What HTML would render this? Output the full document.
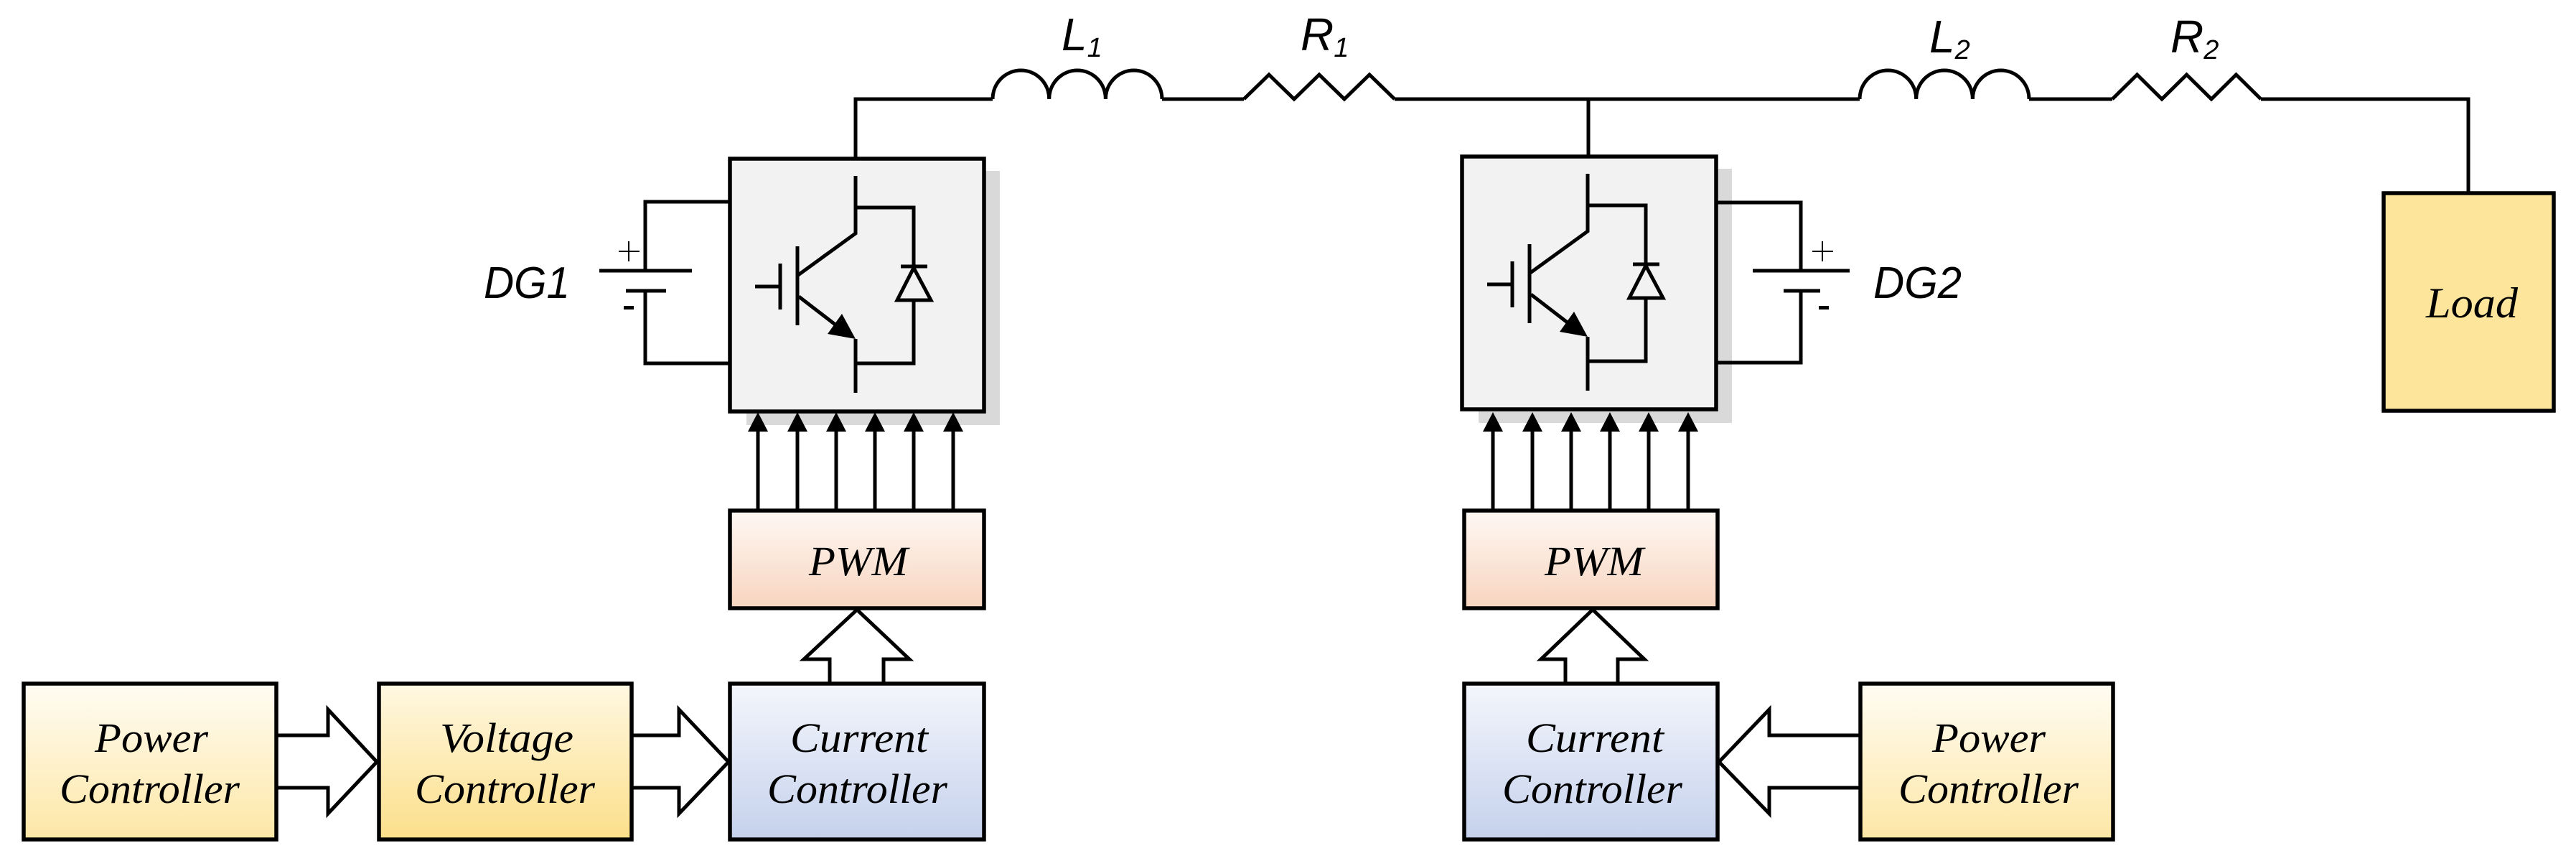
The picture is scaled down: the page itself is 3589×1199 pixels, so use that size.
<!DOCTYPE html>
<html><head><meta charset="utf-8"><style>html,body{margin:0;padding:0;background:#fff}svg{display:block}</style></head>
<body>
<svg width="3589" height="1199" viewBox="0 0 3589 1199" xmlns="http://www.w3.org/2000/svg">
<defs>
<linearGradient id="gPow" x1="0" y1="0" x2="0" y2="1"><stop offset="0" stop-color="#fffcf3"/><stop offset="1" stop-color="#fde7a6"/></linearGradient>
<linearGradient id="gVol" x1="0" y1="0" x2="0" y2="1"><stop offset="0" stop-color="#fff8e2"/><stop offset="1" stop-color="#fcdf8a"/></linearGradient>
<linearGradient id="gCur" x1="0" y1="0" x2="0" y2="1"><stop offset="0" stop-color="#f4f6fc"/><stop offset="1" stop-color="#c5d1ec"/></linearGradient>
<linearGradient id="gPwm" x1="0" y1="0" x2="0" y2="1"><stop offset="0" stop-color="#fff8f4"/><stop offset="1" stop-color="#f7d4be"/></linearGradient>
<g id="igbt" fill="none" stroke="#000" stroke-width="5">
  <rect x="1040" y="238" width="353" height="354" fill="#d9d9d9" stroke="none"/>
  <rect x="1017" y="221" width="354" height="352" fill="#f2f2f2" stroke-width="5.5"/>
  <polyline points="1192,245 1192,325 1112,383"/>
  <line x1="1111" y1="343" x2="1111" y2="453"/>
  <line x1="1087" y1="367" x2="1087" y2="431"/>
  <line x1="1052" y1="399" x2="1087" y2="399"/>
  <line x1="1113" y1="413" x2="1178" y2="463"/>
  <polygon points="1192,472 1153,465 1173,437" fill="#000" stroke="none"/>
  <polyline points="1192,472 1192,547"/>
  <polyline points="1192,289 1273,289 1273,506 1192,506"/>
  <line x1="1255" y1="371" x2="1292" y2="371"/>
  <polygon points="1273,373 1250,418 1297,418" fill="#f2f2f2"/>
</g>
<g id="arr6" stroke="#000" stroke-width="5" fill="#000">
  <line x1="1056" y1="711" x2="1056" y2="590"/><polygon points="1056,574 1042,601 1070,601" stroke="none"/>
  <line x1="1111" y1="711" x2="1111" y2="590"/><polygon points="1111,574 1097,601 1125,601" stroke="none"/>
  <line x1="1165" y1="711" x2="1165" y2="590"/><polygon points="1165,574 1151,601 1179,601" stroke="none"/>
  <line x1="1219" y1="711" x2="1219" y2="590"/><polygon points="1219,574 1205,601 1233,601" stroke="none"/>
  <line x1="1273" y1="711" x2="1273" y2="590"/><polygon points="1273,574 1259,601 1287,601" stroke="none"/>
  <line x1="1328" y1="711" x2="1328" y2="590"/><polygon points="1328,574 1314,601 1342,601" stroke="none"/>
</g>
</defs>

<!-- Top wires -->
<g fill="none" stroke="#000" stroke-width="5" stroke-linejoin="miter">
  <polyline points="1192,221 1192,138 1383,138"/>
  <path d="M1383,138 a39.3,40 0 0 1 78.7,0 a39.3,40 0 0 1 78.7,0 a39.3,40 0 0 1 78.6,0"/>
  <line x1="1619" y1="138" x2="1733" y2="138"/>
  <polyline points="1733,138 1768,104 1803,138 1838,104 1873,138 1908,104 1943,138"/>
  <line x1="1943" y1="138" x2="2591" y2="138"/>
  <line x1="2213" y1="138" x2="2213" y2="218"/>
  <path d="M2591,138 a39.3,40 0 0 1 78.7,0 a39.3,40 0 0 1 78.7,0 a39.3,40 0 0 1 78.6,0"/>
  <line x1="2827" y1="138" x2="2943" y2="138"/>
  <polyline points="2943,138 2977.5,104 3012,138 3046.5,104 3081,138 3115.5,104 3150,138"/>
  <polyline points="3150,138 3439,138 3439,269"/>
</g>

<!-- Load -->
<rect x="3321" y="269" width="237" height="303" fill="#fde69c" stroke="#000" stroke-width="5.5"/>
<text x="3380" y="442" font-family="Liberation Serif, serif" font-style="italic" font-size="60" textLength="128" lengthAdjust="spacingAndGlyphs">Load</text>

<!-- Inverters -->
<use href="#igbt"/>
<use href="#igbt" transform="translate(1020,-3)"/>

<!-- Battery 1 -->
<g fill="none" stroke="#000" stroke-width="5">
  <polyline points="1017,281 899,281 899,377"/>
  <polyline points="1017,506 899,506 899,405"/>
  <line x1="835" y1="377" x2="964" y2="377"/>
  <line x1="872" y1="405" x2="928" y2="405"/>
  <g stroke-width="2"><line x1="862" y1="350" x2="891" y2="350"/><line x1="876" y1="336" x2="876" y2="364"/></g>
</g>
<rect x="869" y="426" width="14" height="5" fill="#000"/>
<text x="674" y="415" font-family="Liberation Sans, sans-serif" font-style="italic" font-size="62" textLength="120" lengthAdjust="spacingAndGlyphs">DG1</text>

<!-- Battery 2 -->
<g fill="none" stroke="#000" stroke-width="5">
  <polyline points="2390,282 2509,282 2509,377"/>
  <polyline points="2390,505 2509,505 2509,405"/>
  <line x1="2442" y1="377" x2="2577" y2="377"/>
  <line x1="2485" y1="405" x2="2536" y2="405"/>
  <g stroke-width="2"><line x1="2525" y1="350" x2="2554" y2="350"/><line x1="2539" y1="336" x2="2539" y2="364"/></g>
</g>
<rect x="2534" y="426" width="14" height="5" fill="#000"/>
<text x="2610" y="415" font-family="Liberation Sans, sans-serif" font-style="italic" font-size="62" textLength="123" lengthAdjust="spacingAndGlyphs">DG2</text>

<!-- Labels -->
<g font-family="Liberation Sans, sans-serif" font-style="italic">
  <text x="1479" y="70" font-size="64">L<tspan font-size="38" dy="9">1</tspan></text>
  <text x="1812" y="70" font-size="64">R<tspan font-size="38" dy="9">1</tspan></text>
  <text x="2688" y="73" font-size="64">L<tspan font-size="38" dy="9">2</tspan></text>
  <text x="3024" y="73" font-size="64">R<tspan font-size="38" dy="9">2</tspan></text>
</g>

<!-- Gate arrows -->
<use href="#arr6"/>
<use href="#arr6" transform="translate(1024,0)"/>

<!-- PWM boxes -->
<rect x="1017" y="711" width="354" height="136" fill="url(#gPwm)" stroke="#000" stroke-width="5.5"/>
<text x="1127" y="801" font-family="Liberation Serif, serif" font-style="italic" font-size="58" textLength="138" lengthAdjust="spacingAndGlyphs">PWM</text>
<rect x="2040" y="711" width="353" height="136" fill="url(#gPwm)" stroke="#000" stroke-width="5.5"/>
<text x="2152" y="801" font-family="Liberation Serif, serif" font-style="italic" font-size="58" textLength="138" lengthAdjust="spacingAndGlyphs">PWM</text>

<!-- Hollow arrows -->
<g fill="#fff" stroke="#000" stroke-width="5" stroke-linejoin="miter">
  <polygon points="1156,952 1156,918 1120,918 1194,849 1267,918 1231,918 1231,952"/>
  <polygon points="2181,952 2181,918 2147,918 2219,849 2291,918 2254,918 2254,952"/>
  <polygon points="385,1024 457,1024 457,988 525,1061 457,1133 457,1097 385,1097"/>
  <polygon points="880,1024 946,1024 946,988 1015,1061 946,1133 946,1097 880,1097"/>
  <polygon points="2592,1024 2465,1024 2465,988 2395,1061 2465,1133 2465,1097 2592,1097"/>
</g>

<!-- Controller boxes -->
<g stroke="#000" stroke-width="5.5">
  <rect x="33" y="952" width="352" height="217" fill="url(#gPow)"/>
  <rect x="528" y="952" width="352" height="217" fill="url(#gVol)"/>
  <rect x="1017" y="952" width="354" height="217" fill="url(#gCur)"/>
  <rect x="2040" y="952" width="353" height="217" fill="url(#gCur)"/>
  <rect x="2592" y="952" width="352" height="217" fill="url(#gPow)"/>
</g>
<g font-family="Liberation Serif, serif" font-style="italic" font-size="58">
  <text x="132" y="1047" textLength="158" lengthAdjust="spacingAndGlyphs">Power</text>
  <text x="83" y="1118" textLength="251" lengthAdjust="spacingAndGlyphs">Controller</text>
  <text x="613" y="1047" textLength="186" lengthAdjust="spacingAndGlyphs">Voltage</text>
  <text x="578" y="1118" textLength="251" lengthAdjust="spacingAndGlyphs">Controller</text>
  <text x="1101" y="1047" textLength="192" lengthAdjust="spacingAndGlyphs">Current</text>
  <text x="1069" y="1118" textLength="251" lengthAdjust="spacingAndGlyphs">Controller</text>
  <text x="2126" y="1047" textLength="192" lengthAdjust="spacingAndGlyphs">Current</text>
  <text x="2093" y="1118" textLength="251" lengthAdjust="spacingAndGlyphs">Controller</text>
  <text x="2692" y="1047" textLength="158" lengthAdjust="spacingAndGlyphs">Power</text>
  <text x="2645" y="1118" textLength="251" lengthAdjust="spacingAndGlyphs">Controller</text>
</g>
</svg>
</body></html>
